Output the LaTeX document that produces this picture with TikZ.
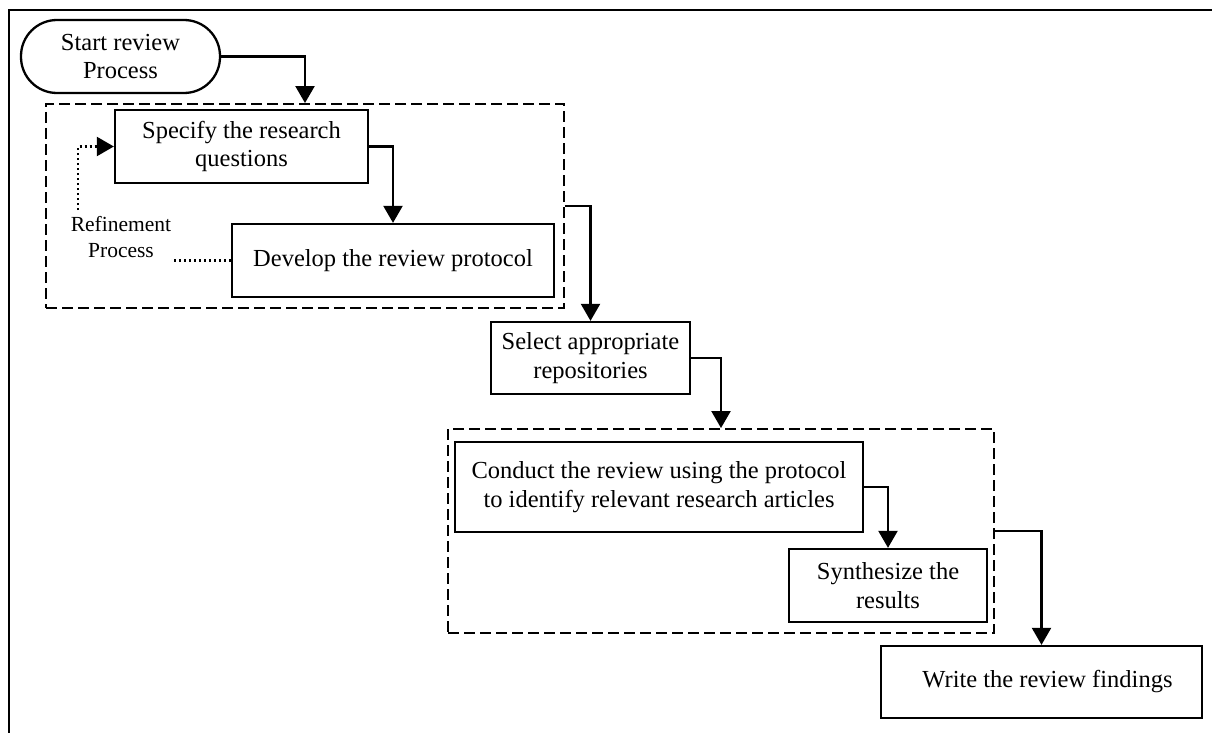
\documentclass[tikz,border=0pt]{standalone}
\usepackage{fontspec}
\setmainfont{Liberation Serif}
\usetikzlibrary{arrows.meta}
\begin{document}
\begin{tikzpicture}[x=1pt,y=-1pt,
  procbox/.style={draw=black, line width=2.3pt, inner sep=0pt, align=center,
    font=\fontsize{24.5}{28.5}\selectfont},
  groupbox/.style={draw=black, line width=1.9pt, dash pattern=on 11pt off 5pt, inner sep=0pt},
  flow/.style={draw=black, line width=2.3pt, -{Triangle[length=17pt,width=19pt]}},
  refine/.style={draw=black, line width=2.3pt, dash pattern=on 2.2pt off 2.8pt},
  smalltext/.style={align=center, inner sep=0pt, font=\fontsize{21.5}{26}\selectfont}
]
\useasboundingbox (0,0) rectangle (1212,733);
% frame
\draw[line width=2.3pt] (9,733) -- (9,10) -- (1212,10);

% group boxes
\node[groupbox, minimum width=518pt, minimum height=204pt] (b1) at (305,206) {};
\node[groupbox, minimum width=546pt, minimum height=204pt] (b2) at (721,531) {};

% nodes
\node[procbox, rounded corners=36pt, minimum width=199pt, minimum height=73pt] (start) at (120.5,56.5) {Start review\\Process};
\node[procbox, minimum width=253pt, minimum height=73pt] (spec) at (241.5,146.5) {Specify the research\\questions};
\node[procbox, minimum width=322pt, minimum height=73pt] (dev) at (393,260.5) {Develop the review protocol};
\node[procbox, minimum width=199pt, minimum height=72pt] (sel) at (590.5,358) {Select appropriate\\repositories};
\node[procbox, minimum width=408pt, minimum height=90pt] (cond) at (659,487) {Conduct the review using the protocol\\to identify relevant research articles};
\node[procbox, minimum width=198pt, minimum height=73pt] (syn) at (888,585.5) {Synthesize the\\results};
\node[procbox, minimum width=321pt, minimum height=72pt] (write) at (1041.5,682) {\hspace*{12pt}Write the review findings};

\node[smalltext] (reftext) at (121,237) {Refinement\\Process};
\coordinate (rfa) at (78,210);
\coordinate (rfb) at (172,260.5);

% connectors
\draw[flow] (start.east) -| (b1.north);
\draw[flow] (spec.east) -| (dev.north);
\draw[flow] (b1.east) -| (sel.north);
\draw[flow] (sel.east) -| (b2.north);
\draw[flow] (cond.east) -| (syn.north);
\draw[flow] (b2.east) -| (write.north);
\draw[refine] (dev.west) -- (rfb);
\draw[refine, -{Triangle[length=17pt,width=19pt]}] (rfa) |- (spec.west);
\end{tikzpicture}
\end{document}
